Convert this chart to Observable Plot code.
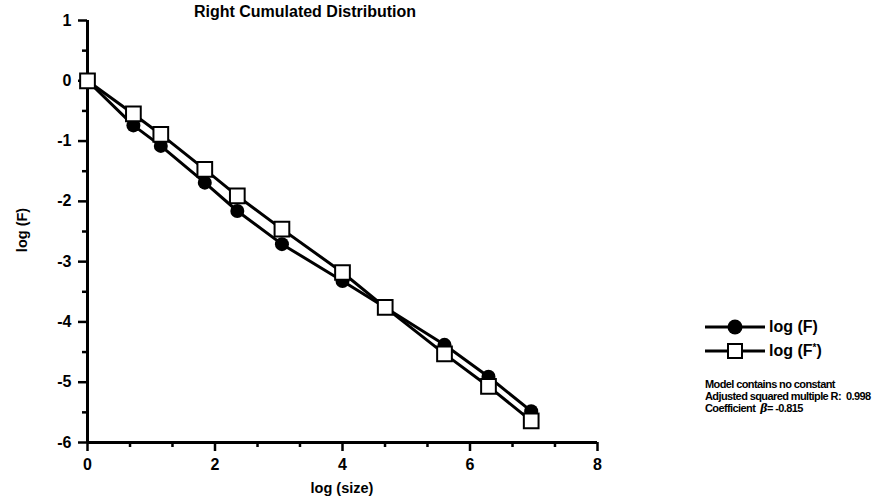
<!DOCTYPE html>
<html>
<head>
<meta charset="utf-8">
<script src="https://cdn.jsdelivr.net/npm/d3@7"></script>
<script src="https://cdn.jsdelivr.net/npm/@observablehq/plot@0.6"></script>
<style>
  html, body { margin: 0; padding: 0; background: #fff; }
  svg { font-family: "Liberation Sans", Arial, sans-serif; }
</style>
</head>
<body>
<div id="chart"></div>
<script>
// Data
const logSize = [0, 0.72, 1.15, 1.84, 2.35, 3.05, 4.0, 4.67, 5.6, 6.29, 6.96];
const logF    = [0, -0.74, -1.08, -1.69, -2.16, -2.71, -3.32, -3.76, -4.38, -4.91, -5.48];
const logFstar= [0, -0.55, -0.89, -1.47, -1.91, -2.46, -3.18, -3.76, -4.53, -5.07, -5.64];
const xMajorTicks = [0, 2, 4, 6, 8];
const xMinorTicks = [0.667, 1.333, 2.667, 3.333, 4.667, 5.333, 6.667, 7.333];
const yMajorTicks = [1, 0, -1, -2, -3, -4, -5, -6];
const yMinorTicks = [0.5, -0.5, -1.5, -2.5, -3.5, -4.5, -5.5];
const seriesNames = ["log (F)", "log (F*)"];
const titleText = "Right Cumulated Distribution";
const xLabel = "log (size)";
const yLabel = "log (F)";
const notes = ["Model contains no constant", "Adjusted squared multiple R:  0.998"];
const coefValue = "-0.815";

const F = logSize.map((x, i) => ({x, y: logF[i]}));
const Fs = logSize.map((x, i) => ({x, y: logFstar[i]}));

const fontTick = {fontSize: 16, fontWeight: "bold"};

const plot = Plot.plot({
  width: 875,
  height: 499,
  marginLeft: 87,
  marginRight: 278,
  marginTop: 20,
  marginBottom: 57,
  style: {fontFamily: "Liberation Sans, Arial, sans-serif", background: "#fff", color: "#000"},
  x: {domain: [0, 8]},
  y: {domain: [-6, 1]},
  marks: [
    Plot.axisX(xMinorTicks, {tickSize: 5, strokeWidth: 2.5, text: null, label: null}),
    Plot.axisX(xMajorTicks, {tickSize: 9, strokeWidth: 2.5, tickPadding: 7, ...fontTick, label: null}),
    Plot.axisY(yMinorTicks, {tickSize: 5, strokeWidth: 2.5, text: null, label: null}),
    Plot.axisY(yMajorTicks, {tickSize: 9, strokeWidth: 2.5, tickPadding: 7, ...fontTick, label: null, tickFormat: d => d < 0 ? "-" + Math.abs(d) : String(d)}),
    Plot.ruleX([0], {y1: -6, y2: 1, strokeWidth: 3}),
    Plot.ruleY([-6], {x1: 0, x2: 8, strokeWidth: 3}),
    Plot.line(F, {x: "x", y: "y", stroke: "#000", strokeWidth: 3}),
    Plot.line(Fs, {x: "x", y: "y", stroke: "#000", strokeWidth: 3}),
    Plot.dot(F, {x: "x", y: "y", r: 7, fill: "#000", stroke: "none"}),
    Plot.dot(Fs, {x: "x", y: "y", symbol: "square", r: 8.3, fill: "#fff", stroke: "#000", strokeWidth: 2})
  ]
});
document.getElementById("chart").appendChild(plot);

const svg = d3.select(plot);
// Title
svg.append("text").attr("x", 305).attr("y", 17).attr("text-anchor", "middle")
  .attr("font-size", 16).attr("font-weight", "bold").text(titleText);
// Axis labels
svg.append("text").attr("x", 342).attr("y", 493).attr("text-anchor", "middle")
  .attr("font-size", 14.5).attr("font-weight", "bold").text(xLabel);
svg.append("text").attr("transform", "translate(27,230) rotate(-90)").attr("text-anchor", "middle")
  .attr("font-size", 14.5).attr("font-weight", "bold").text(yLabel);

// Legend
const lg = svg.append("g").attr("text-anchor", "start");
const legendY = [327, 351];
seriesNames.forEach((name, i) => {
  const y = legendY[i];
  lg.append("line").attr("x1", 705).attr("x2", 765).attr("y1", y).attr("y2", y)
    .attr("stroke", "#000").attr("stroke-width", 3);
  if (i === 0) {
    lg.append("circle").attr("cx", 735).attr("cy", y).attr("r", 7.5).attr("fill", "#000");
  } else {
    lg.append("rect").attr("x", 728).attr("y", y - 7).attr("width", 14).attr("height", 14)
      .attr("fill", "#fff").attr("stroke", "#000").attr("stroke-width", 2);
  }
  const t = lg.append("text").attr("x", 769).attr("y", y + 5)
    .attr("font-size", 16).attr("font-weight", "bold");
  if (name.endsWith("*)")) {
    t.append("tspan").text(name.slice(0, -2));
    t.append("tspan").attr("font-size", 10).attr("dy", -5).text("*");
    t.append("tspan").attr("dy", 5).text(")");
  } else {
    t.text(name);
  }
});

// Notes
const ng = svg.append("g").attr("text-anchor", "start");
const noteY = [388, 400];
notes.forEach((n, i) => {
  ng.append("text").attr("x", 705).attr("y", noteY[i]).attr("font-size", 11)
    .attr("font-weight", "bold").attr("letter-spacing", -0.6).text(n);
});
const c = ng.append("text").attr("x", 705).attr("y", 412).attr("font-size", 11)
  .attr("font-weight", "bold").attr("letter-spacing", -0.6);
c.append("tspan").text("Coefficient  ");
c.append("tspan").attr("font-style", "italic").attr("font-family", "DejaVu Serif, serif").text("β");
c.append("tspan").text("= " + coefValue);
</script>
</body>
</html>
